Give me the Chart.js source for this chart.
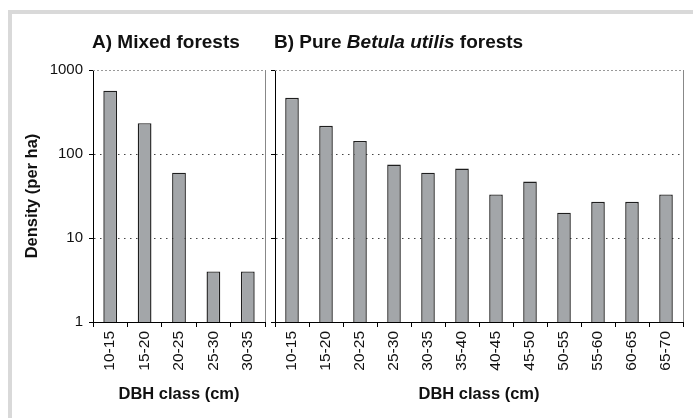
<!DOCTYPE html>
<html>
<head>
<meta charset="utf-8">
<script src="https://cdn.jsdelivr.net/npm/chart.js@4.4.1/dist/chart.umd.min.js"></script>
<style>
  body { margin: 0; background: #fff; }
  #wrap { position: relative; width: 693px; height: 418px; overflow: hidden; }
  .frame { position: absolute; left: 8px; top: 10px; width: 700px; height: 420px;
           border-top: 4px solid #d9d9d9; border-left: 4px solid #d9d9d9; }
  canvas { position: absolute; left: 0; top: 0; }
</style>
</head>
<body>
<div id="wrap">
  <div class="frame"></div>
  <canvas id="chartA" width="693" height="418"></canvas>
  <canvas id="chartB" width="693" height="418"></canvas>
</div>
<script>
const classesA = ['10-15', '15-20', '20-25', '25-30', '30-35'];
const densityA = [567, 233, 60, 4, 4];
const classesB = ['10-15', '15-20', '20-25', '25-30', '30-35', '35-40', '40-45', '45-50', '50-55', '55-60', '60-65', '65-70'];
const densityB = [467, 217, 143, 75, 60, 67, 33, 47, 20, 27, 27, 33];
const yTicks = [1, 10, 100, 1000];

const FONT = "'Liberation Sans', Arial, sans-serif";
Chart.defaults.font.family = FONT;
Chart.defaults.color = '#111';

// panel title (mixed upright / italic parts) + grey top and right frame lines
const panelDeco = {
    id: 'panelDeco',
    beforeDatasetsDraw(chart, args, opts) {
        const { ctx, chartArea } = chart;
        ctx.save();
        ctx.strokeStyle = '#999';
        ctx.lineWidth = 1;
        ctx.setLineDash([2, 2]);
        ctx.beginPath();
        ctx.moveTo(chartArea.left, chartArea.top + 0.5);
        ctx.lineTo(chartArea.right, chartArea.top + 0.5);
        ctx.stroke();
        ctx.setLineDash([]);
        ctx.strokeStyle = '#888';
        ctx.beginPath();
        ctx.moveTo(chartArea.right + 0.5, chartArea.top);
        ctx.lineTo(chartArea.right + 0.5, chartArea.bottom);
        ctx.stroke();
        ctx.restore();
    },
    afterDraw(chart, args, opts) {
        const { ctx, chartArea } = chart;
        ctx.save();
        ctx.fillStyle = '#111';
        ctx.textBaseline = 'alphabetic';
        let x = chartArea.left - 1;
        opts.parts.forEach(p => {
            ctx.font = (p.italic ? 'italic ' : '') + 'bold 19px ' + FONT;
            ctx.fillText(p.text, x, 48);
            x += ctx.measureText(p.text).width;
        });
        ctx.restore();
    }
};

function makeChart(id, labels, values, opts) {
    return new Chart(document.getElementById(id), {
        type: 'bar',
        data: {
            labels: labels,
            datasets: [{
                data: values,
                backgroundColor: '#a3a6a9',
                borderColor: '#1e1e1e',
                borderWidth: 1.4,
                barPercentage: 0.4,
                categoryPercentage: 1
            }]
        },
        plugins: [panelDeco],
        options: {
            responsive: false,
            animation: false,
            layout: { padding: { top: 70, right: opts.right, bottom: 0, left: 0 } },
            plugins: {
                legend: { display: false },
                tooltip: { enabled: false },
                panelDeco: { parts: opts.title }
            },
            scales: {
                x: {
                    afterFit: s => { s.height = 96; },
                    grid: { drawOnChartArea: false, drawTicks: true, tickLength: 5, tickColor: '#000', offset: true },
                    border: { display: true, color: '#000', width: 1 },
                    ticks: { minRotation: 90, maxRotation: 90, padding: 4, font: { size: 15.5 } },
                    title: { display: true, text: 'DBH class (cm)', font: { size: 16.5, weight: 'bold' }, padding: { top: 0, bottom: 14 } }
                },
                y: {
                    type: 'logarithmic',
                    min: 1,
                    max: 1000,
                    afterFit: s => { s.width = opts.yWidth; },
                    afterBuildTicks: s => { s.ticks = yTicks.map(v => ({ value: v })); },
                    grid: {
                        color: c => (c.tick && (c.tick.value === 10 || c.tick.value === 100)) ? '#444' : 'rgba(0,0,0,0)',
                        lineWidth: 1,
                        drawTicks: true,
                        tickLength: 4,
                        tickColor: '#000',
                        tickBorderDash: []
                    },
                    border: { display: true, color: '#000', width: 1, dash: [1.5, 4.5] },
                    ticks: {
                        display: opts.showLabels,
                        padding: 6,
                        font: { size: 15 },
                        callback: v => String(v)
                    },
                    title: {
                        display: opts.showLabels,
                        text: 'Density (per ha)',
                        font: { size: 16.5, weight: 'bold' },
                        padding: { top: 23, bottom: 0 }
                    }
                }
            }
        }
    });
}

makeChart('chartA', classesA, densityA, {
    right: 428, yWidth: 93, showLabels: true,
    title: [{ text: 'A) Mixed forests' }]
});
makeChart('chartB', classesB, densityB, {
    right: 10, yWidth: 275, showLabels: false,
    title: [{ text: 'B) Pure ' }, { text: 'Betula utilis', italic: true }, { text: ' forests' }]
});
</script>
</body>
</html>
